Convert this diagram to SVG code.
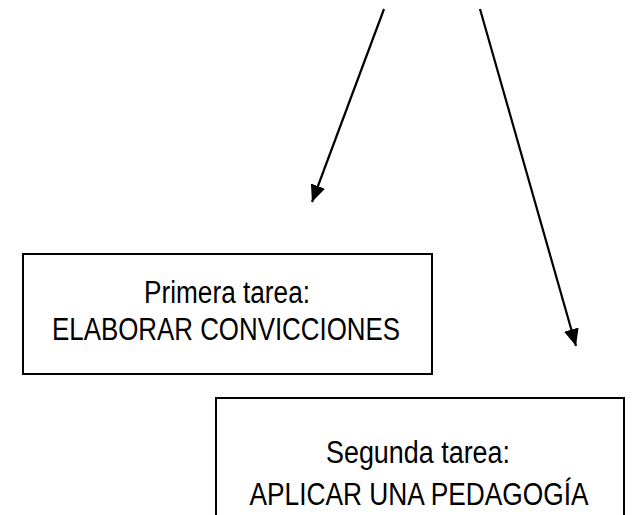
<svg xmlns="http://www.w3.org/2000/svg" width="635" height="515" viewBox="0 0 635 515">
<style>
.box{fill:#fff;stroke:#000;stroke-width:2}
.t{font-family:"Liberation Sans",Arial,sans-serif;font-size:31px;fill:#000;text-anchor:middle}
.c{stroke:#000;stroke-width:2.2;fill:none}
</style>
<defs>
<marker id="ah" markerUnits="userSpaceOnUse" markerWidth="18" markerHeight="16" refX="17" refY="7.5" orient="auto">
<path d="M0,0 L17,7.5 L0,15 z" fill="#000"/>
</marker>
</defs>
<rect width="635" height="515" fill="#fff"/>
<g id="connectors">
<line class="c" x1="384" y1="9" x2="312" y2="202" marker-end="url(#ah)"/>
<line class="c" x1="480" y1="9" x2="576" y2="346" marker-end="url(#ah)"/>
</g>
<g id="node1">
<rect class="box" x="23" y="254" width="409" height="120"/>
<text class="t" x="227" y="303" textLength="166" lengthAdjust="spacingAndGlyphs">Primera tarea:</text>
<text class="t" x="226" y="340" textLength="348" lengthAdjust="spacingAndGlyphs">ELABORAR CONVICCIONES</text>
</g>
<g id="node2">
<rect class="box" x="216" y="398" width="408" height="130"/>
<text class="t" x="418" y="463" textLength="184" lengthAdjust="spacingAndGlyphs">Segunda tarea:</text>
<text class="t" x="419" y="505" textLength="339" lengthAdjust="spacingAndGlyphs">APLICAR UNA PEDAGOGÍA</text>
</g>
</svg>
